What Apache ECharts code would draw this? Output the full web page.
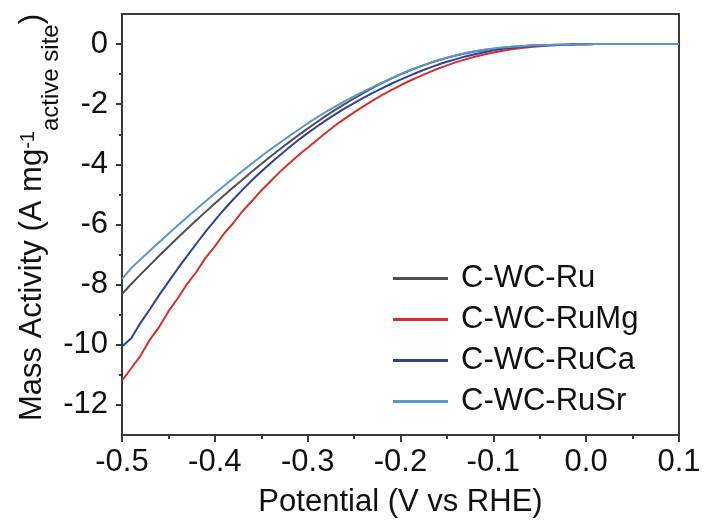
<!DOCTYPE html>
<html>
<head>
<meta charset="utf-8">
<script src="https://cdn.jsdelivr.net/npm/echarts@6/dist/echarts.min.js"></script>
<style>
html,body{margin:0;padding:0;background:#fff;}
#chart{width:704px;height:527px;}
</style>
</head>
<body>
<div id="chart"></div>
<script>
const potential = [
  -0.50,-0.49,-0.48,-0.47,-0.46,-0.45,-0.44,-0.43,-0.42,-0.41,
  -0.40,-0.39,-0.38,-0.37,-0.36,-0.35,-0.34,-0.33,-0.32,-0.31,
  -0.30,-0.29,-0.28,-0.27,-0.26,-0.25,-0.24,-0.23,-0.22,-0.21,
  -0.20,-0.19,-0.18,-0.17,-0.16,-0.15,-0.14,-0.13,-0.12,-0.11,
  -0.10,-0.09,-0.08,-0.07,-0.06,-0.05,-0.04,-0.03,-0.02,-0.01,
  0.00,0.01,0.02,0.03,0.04,0.05,0.06,0.07,0.08,0.09,0.10
];
const seriesNames = ['C-WC-Ru','C-WC-RuMg','C-WC-RuCa','C-WC-RuSr'];
const ruValues = [
  -8.31,-7.98,-7.66,-7.35,-7.04,-6.74,-6.44,-6.15,-5.86,-5.58,
  -5.30,-5.03,-4.76,-4.50,-4.24,-3.99,-3.74,-3.50,-3.26,-3.03,
  -2.81,-2.59,-2.38,-2.18,-1.99,-1.81,-1.63,-1.46,-1.30,-1.15,
  -1.01,-0.88,-0.76,-0.65,-0.55,-0.46,-0.38,-0.31,-0.25,-0.20,
  -0.16,-0.12,-0.09,-0.07,-0.05,-0.04,-0.03,-0.02,-0.02,-0.01,
  -0.01,0,0,0,0,0,0,0,0,0,0
];
const ruMgValues = [
  -11.19,-10.78,-10.36,-9.83,-9.41,-8.89,-8.46,-7.98,-7.58,-7.11,
  -6.73,-6.30,-5.95,-5.55,-5.22,-4.87,-4.56,-4.25,-3.97,-3.70,
  -3.45,-3.19,-2.94,-2.70,-2.48,-2.27,-2.07,-1.88,-1.70,-1.53,
  -1.37,-1.22,-1.08,-0.95,-0.82,-0.71,-0.60,-0.51,-0.42,-0.35,
  -0.28,-0.22,-0.17,-0.13,-0.10,-0.07,-0.05,-0.03,-0.02,-0.01,
  -0.01,0,0,0,0,0,0,0,0,0,0
];
const ruCaValues = [
  -10.06,-9.78,-9.27,-8.82,-8.35,-7.91,-7.47,-7.05,-6.64,-6.24,
  -5.86,-5.50,-5.16,-4.84,-4.53,-4.24,-3.96,-3.70,-3.44,-3.19,
  -2.96,-2.74,-2.53,-2.33,-2.14,-1.96,-1.79,-1.62,-1.47,-1.32,
  -1.18,-1.05,-0.92,-0.80,-0.69,-0.59,-0.50,-0.41,-0.34,-0.27,
  -0.21,-0.16,-0.12,-0.09,-0.07,-0.05,-0.04,-0.03,-0.02,-0.01,
  -0.01,0,0,0,0,0,0,0,0,0,0
];
const ruSrValues = [
  -7.81,-7.45,-7.16,-6.87,-6.59,-6.31,-6.03,-5.76,-5.49,-5.23,
  -4.97,-4.71,-4.46,-4.21,-3.97,-3.73,-3.50,-3.28,-3.06,-2.85,
  -2.64,-2.44,-2.25,-2.07,-1.90,-1.74,-1.58,-1.43,-1.28,-1.14,
  -1.00,-0.87,-0.75,-0.64,-0.54,-0.45,-0.37,-0.30,-0.24,-0.19,
  -0.15,-0.11,-0.09,-0.07,-0.05,-0.04,-0.03,-0.02,-0.02,-0.01,
  -0.01,0,0,0,0,0,0,0,0,0,0
];
const xTickValues = [-0.5,-0.4,-0.3,-0.2,-0.1,0.0,0.1];
const yMajorTicks = [-12,-10,-8,-6,-4,-2,0];
const yMinorTicks = [-11,-9,-7,-5,-3,-1];
const colors = ['#4f4f4f','#d2322b','#2c419c','#5b95cf'];

const allValues = [ruValues, ruMgValues, ruCaValues, ruSrValues];
const FONT = '"Liberation Sans", Arial, sans-serif';

const chart = echarts.init(document.getElementById('chart'), null, {renderer:'canvas'});
const option = {
  animation: false,
  backgroundColor: '#fff',
  grid: {left:122, right:25, top:14, bottom:92, containLabel:false, outerBoundsMode:'none',
         show:true, borderColor:'#3a3a3a', borderWidth:2, backgroundColor:'transparent'},
  legend: {
    orient:'vertical', left:388, top:258,
    icon:'rect', itemWidth:55, itemHeight:3, itemGap:10,
    data: seriesNames,
    textStyle:{fontFamily:FONT, fontSize:31, color:'#111', padding:[0,0,0,8]}
  },
  xAxis: {
    type:'value', min:-0.5, max:0.1, interval:0.1,
    name:'Potential (V vs RHE)', nameLocation:'middle', nameGap:52, nameMoveOverlap:false,
    nameTextStyle:{fontFamily:FONT, fontSize:31, color:'#111'},
    axisLine:{show:true, onZero:false, lineStyle:{color:'#3a3a3a', width:2}},
    axisTick:{show:true, length:7, lineStyle:{color:'#3a3a3a', width:2}},
    minorTick:{show:true, splitNumber:2, length:4, lineStyle:{color:'#3a3a3a', width:2}},
    axisLabel:{fontFamily:FONT, fontSize:31, color:'#111', margin:12,
      customValues: xTickValues,
      formatter: v => (Math.abs(v) < 1e-9 ? 0 : v).toFixed(1)},
    splitLine:{show:false}
  },
  yAxis: [{
    type:'value', min:-13, max:1, position:'left',
    name:'{a|Mass Activity (A mg}{sup|-1}{sub|active site}{a|)}',
    nameLocation:'middle', nameGap:72, nameRotate:90, nameMoveOverlap:false,
    nameTextStyle:{
      fontFamily:FONT, fontSize:31, color:'#111', padding:[0,0,0,14],
      rich:{
        a:{fontFamily:FONT, fontSize:31, color:'#111', lineHeight:36, verticalAlign:'middle'},
        sup:{fontFamily:FONT, fontSize:20, color:'#111', lineHeight:20, padding:[0,0,7,0], verticalAlign:'middle'},
        sub:{fontFamily:FONT, fontSize:24, color:'#111', lineHeight:24, padding:[38,0,0,0], verticalAlign:'middle'}
      }
    },
    axisLine:{show:true, onZero:false, lineStyle:{color:'#3a3a3a', width:2}},
    axisTick:{show:true, length:6, customValues: yMajorTicks, lineStyle:{color:'#3a3a3a', width:2}},
    axisLabel:{fontFamily:FONT, fontSize:31, color:'#111', margin:14, customValues: yMajorTicks},
    splitLine:{show:false}
  },{
    type:'value', min:-13, max:1, position:'left',
    axisLine:{show:false, onZero:false},
    axisTick:{show:true, length:3, customValues: yMinorTicks, lineStyle:{color:'#3a3a3a', width:2}},
    axisLabel:{show:false, customValues: yMinorTicks},
    splitLine:{show:false}
  }],
  series: seriesNames.map((name, i) => ({
    name: name,
    type: 'line',
    yAxisIndex: 0,
    symbol: 'none',
    data: potential.map((x, k) => [x, allValues[i][k]]),
    lineStyle: {color: colors[i], width: 2},
    itemStyle: {color: colors[i]},
    z: [2,3,4,5][i]
  }))
};
chart.setOption(option);
</script>
</body>
</html>
